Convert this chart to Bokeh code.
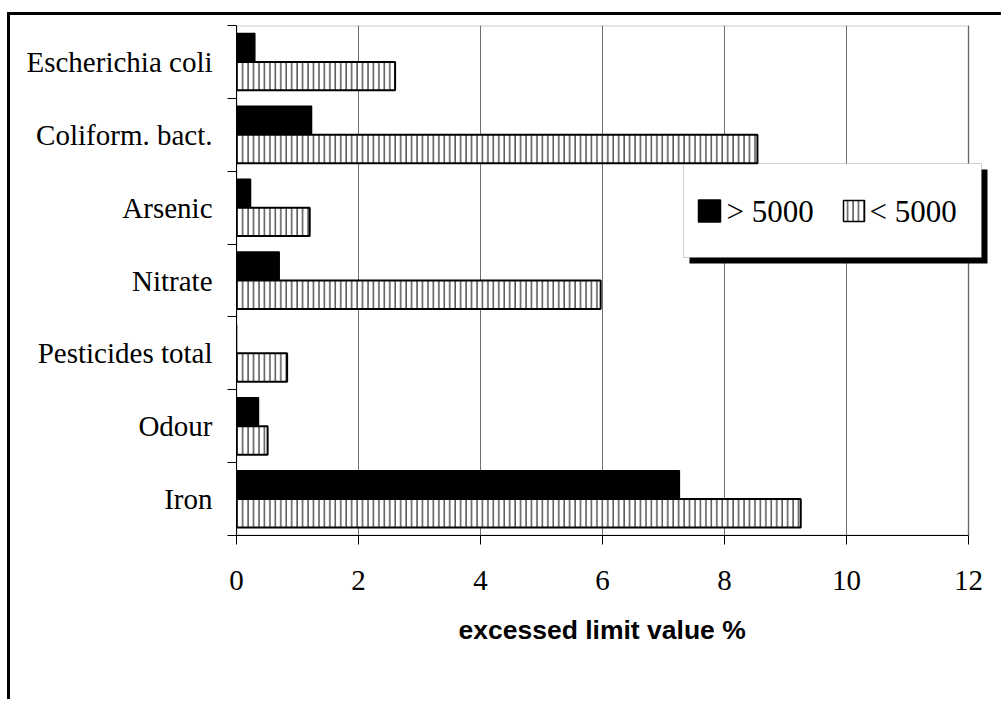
from bokeh.plotting import figure
from bokeh.models import (Range1d, FixedTicker, BoxAnnotation, ColumnDataSource, Title,
                          Label)
from bokeh.transform import dodge
from bokeh.embed import file_html
from bokeh.resources import INLINE

# ---------------- data ----------------
categories = ["Iron", "Odour", "Pesticides total", "Nitrate", "Arsenic",
              "Coliform. bact.", "Escherichia coli"]
over_5000 = [7.26, 0.36, 0.0, 0.70, 0.23, 1.23, 0.30]
under_5000 = [9.25, 0.51, 0.83, 5.97, 1.20, 8.54, 2.60]
series_labels = ["> 5000", "< 5000"]
x_ticks = [0, 2, 4, 6, 8, 10, 12]
x_title = "excessed limit value %"

# ---------------- layout (page pixels) ----------------
PAGE_W, PAGE_H = 1004, 702
OFF_X, OFF_Y = 10, 15              # canvas offset caused by outer frame (margin + border)
CW, CH = PAGE_W - OFF_X, PAGE_H - OFF_Y
FL, FT, FB = 236, 25, 535          # frame edges on the page
AX_R = 968                         # page x of value 12
FR = PAGE_W - 5                    # frame extends a bit further right (room for legend box)
XMAX = 12
PX_PER_UNIT = (AX_R - FL) / XMAX
NCAT = len(categories)
SERIF = "Liberation Serif"

def dx(px):
    return (px - FL) / PX_PER_UNIT

def dy(py):
    return (FB - py) / (FB - FT) * NCAT

pos = [i + 0.5 for i in range(NCAT)]
src = ColumnDataSource(dict(pos=pos, cat=categories, over=over_5000, under=under_5000))

p = figure(width=CW, height=CH, output_backend="svg", toolbar_location=None,
           x_range=Range1d(0, dx(FR)), y_range=Range1d(0, NCAT),
           min_border_left=FL - OFF_X, min_border_right=PAGE_W - FR,
           min_border_top=FT - OFF_Y, min_border_bottom=PAGE_H - FB)
p.styles = {"margin-left": "7px", "margin-top": "12px",
            "border-top": "3px solid black", "border-left": "3px solid black"}
p.background_fill_color = "white"
p.border_fill_color = "white"
p.outline_line_color = None

p.xgrid.ticker = FixedTicker(ticks=x_ticks)
p.xgrid.grid_line_color = "#707070"
p.xgrid.grid_line_width = 1
p.ygrid.grid_line_color = None

# plot-area border (top / right)
p.add_layout(BoxAnnotation(left=0, right=XMAX, top=NCAT, bottom=0,
                           fill_alpha=0, line_color="#505050", line_width=2,
                           level="underlay"))

# legend box with shadow (drawn under the glyphs)
p.add_layout(BoxAnnotation(left=dx(689), right=dx(987), top=dy(169), bottom=dy(263),
                           fill_color="black", fill_alpha=1, line_color=None,
                           level="underlay"))
p.add_layout(BoxAnnotation(left=dx(683), right=dx(981), top=dy(163), bottom=dy(257),
                           fill_color="white", fill_alpha=1, line_color="#606060",
                           line_width=1, level="underlay"))

black_style = dict(fill_color="black", line_color="black", line_width=1.5)
hatch_style = dict(fill_color="white", line_color="black", line_width=2,
                   hatch_pattern="vertical_line", hatch_color="black",
                   hatch_scale=5.45, hatch_weight=1)

bar_h = 0.39
r1 = p.hbar(y=dodge("pos", 0.195), right="over", left=0, height=bar_h, source=src,
            **black_style)
r2 = p.hbar(y=dodge("pos", -0.195), right="under", left=0, height=bar_h, source=src,
            **hatch_style)

# legend swatches
leg_y = dy(210.5)
p.rect(x=[dx(709)], y=[leg_y], width=22, height=22, width_units="screen",
       height_units="screen", **black_style)
p.rect(x=[dx(853.5)], y=[leg_y], width=21, height=21, width_units="screen",
       height_units="screen", **dict(hatch_style, line_width=1.5))

# legend labels
for lx, lab in zip([dx(726), dx(869)], series_labels):
    p.add_layout(Label(x=lx, y=leg_y, x_units="data", y_units="data", text=lab,
                       text_font=SERIF, text_font_size="31px", text_color="black",
                       text_align="left", text_baseline="middle"))

# x axis
xa = p.xaxis[0]
xa.bounds = (0, XMAX)
xa.ticker = FixedTicker(ticks=x_ticks, minor_ticks=[])
xa.axis_line_color = "black"
xa.major_tick_in = 0
xa.major_tick_out = 9
xa.major_tick_line_color = "black"
xa.minor_tick_line_color = None
xa.major_label_text_font = SERIF
xa.major_label_text_font_size = "29px"
xa.major_label_text_color = "black"
xa.major_label_standoff = 26

# x-axis title, positioned relative to the 0..12 span
title = Title(text=x_title, align="left", offset=458 - FL,
              text_font="Liberation Sans", text_font_style="bold",
              text_font_size="26.5px", text_color="black", standoff=40)
p.add_layout(title, "below")

# y axis: labels at category centres, ticks at boundaries
ya = p.yaxis[0]
ya.ticker = FixedTicker(ticks=pos, minor_ticks=list(range(NCAT + 1)))
ya.major_label_overrides = {v: c for v, c in zip(pos, categories)}
ya.axis_line_color = "black"
ya.major_tick_in = 0
ya.major_tick_out = 0
ya.major_tick_line_color = None
ya.minor_tick_in = 0
ya.minor_tick_out = 9
ya.minor_tick_line_color = "black"
ya.major_label_text_font = SERIF
ya.major_label_text_font_size = "29px"
ya.major_label_text_color = "black"
ya.major_label_standoff = 15

open("out.html", "w").write(file_html(p, INLINE))
